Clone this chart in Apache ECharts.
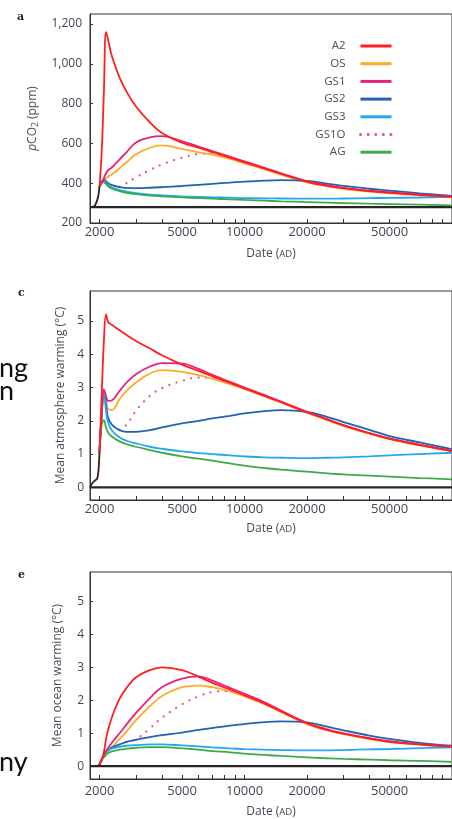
<!DOCTYPE html>
<html>
<head>
<meta charset="utf-8">
<script src="https://cdn.jsdelivr.net/npm/echarts@6/dist/echarts.min.js"></script>
<style>
html,body{margin:0;padding:0;background:#fff;}
#chart{width:452px;height:819px;}
</style>
</head>
<body>
<div id="chart"></div>
<script>
// ---- shared x values (Date AD) ----
const dates = [2000, 2050, 2100, 2150, 2200, 2300, 2500, 2700, 3000, 3500, 4000, 5000, 6000, 7000, 8500, 10000, 12500, 15000, 20000, 25000, 30000, 40000, 50000, 70000, 100000];
const histDates = [1800, 1850, 1900, 1950, 1980, 2000];
const baseDates = [1800, 100000];

// ---- tick values ----
const xMajorTicks = [2000, 5000, 10000, 20000, 50000];
const xAllTicks = [2000, 3000, 4000, 5000, 6000, 7000, 8000, 9000, 10000, 20000, 30000, 40000, 50000, 60000, 70000, 80000, 90000, 100000];
const co2Ticks = [200, 400, 600, 800, 1000, 1200];
const tempTicks = [0, 1, 2, 3, 4, 5];

const seriesNames = ['A2', 'OS', 'GS1', 'GS2', 'GS3', 'GS1O', 'AG'];

// ---- panel a: pCO2 (ppm) ----
const co2_A2   = [385, 560, 860, 1160, 1120, 1035, 930, 860, 785, 705, 652, 603, 578, 556, 528, 505, 473, 447, 407, 387, 375, 360, 352, 341, 331];
const co2_OS   = [385, 400, 415, 425, 432, 445, 475, 505, 545, 578, 590, 572, 555, 543, 522, 500, 469, 443, 404, 385, 372, 358, 350, 339, 329];
const co2_GS1  = [385, 400, 425, 450, 465, 480, 520, 555, 605, 630, 636, 610, 584, 561, 533, 510, 477, 450, 410, 390, 377, 362, 354, 343, 333];
const co2_GS2  = [385, 410, 418, 410, 400, 390, 380, 376, 375, 377, 380, 386, 392, 397, 403, 408, 413, 415, 411, 398, 386, 372, 363, 349, 336];
const co2_GS3  = [385, 405, 412, 400, 390, 378, 365, 357, 350, 343, 339, 334, 331, 329, 327, 325, 324, 323, 322, 322, 323, 325, 326, 328, 331];
const co2_GS1O = [null, null, null, null, null, null, 382, 400, 430, 466, 494, 528, 546, 548, 528, 505];
const co2_AG   = [385, 408, 405, 395, 385, 372, 360, 352, 345, 338, 334, 329, 325, 322, 319, 316, 312, 309, 305, 302, 300, 297, 295, 292, 289];
const co2_hist = [280, 281, 288, 315, 345, 385];
const co2_base = [280, 280];

// ---- panel c: mean atmosphere warming (°C) ----
const atm_A2   = [1.05, 2.8, 4.4, 5.2, 4.97, 4.88, 4.72, 4.58, 4.4, 4.17, 3.97, 3.69, 3.5, 3.34, 3.14, 2.975, 2.745, 2.56, 2.26, 2.04, 1.86, 1.62, 1.46, 1.27, 1.09];
const atm_OS   = [1.05, 2.2, 2.9, 2.6, 2.35, 2.33, 2.65, 2.9, 3.15, 3.42, 3.52, 3.47, 3.37, 3.26, 3.1, 2.95, 2.73, 2.55, 2.24, 2.02, 1.84, 1.61, 1.45, 1.26, 1.08];
const atm_GS1  = [1.05, 2.2, 2.95, 2.75, 2.6, 2.62, 2.9, 3.15, 3.4, 3.63, 3.73, 3.72, 3.56, 3.38, 3.17, 3.0, 2.77, 2.58, 2.27, 2.05, 1.87, 1.63, 1.47, 1.28, 1.1];
const atm_GS2  = [1.05, 2.2, 2.9, 2.5, 2.1, 1.88, 1.72, 1.67, 1.67, 1.72, 1.8, 1.92, 2.0, 2.07, 2.15, 2.22, 2.29, 2.32, 2.27, 2.12, 1.96, 1.73, 1.54, 1.35, 1.15];
const atm_GS3  = [1.05, 2.2, 2.85, 2.3, 1.95, 1.7, 1.5, 1.4, 1.32, 1.22, 1.16, 1.08, 1.03, 1.0, 0.96, 0.93, 0.9, 0.89, 0.88, 0.89, 0.9, 0.93, 0.96, 1.0, 1.04];
const atm_GS1O = [null, null, null, null, null, null, 1.72, 1.88, 2.3, 2.75, 2.98, 3.2, 3.3, 3.3, 3.13, 2.97];
const atm_AG   = [1.05, 1.9, 2.02, 1.8, 1.65, 1.52, 1.38, 1.3, 1.22, 1.12, 1.04, 0.93, 0.86, 0.8, 0.72, 0.65, 0.58, 0.53, 0.47, 0.42, 0.39, 0.35, 0.32, 0.28, 0.24];
const atm_hist = [0.0, 0.13, 0.2, 0.27, 0.55, 1.05];
const atm_base = [0, 0];

// ---- panel e: mean ocean warming (°C) ----
const ocn_A2   = [0.05, 0.2, 0.42, 0.82, 1.1, 1.5, 2.05, 2.38, 2.7, 2.92, 3.0, 2.92, 2.72, 2.53, 2.33, 2.15, 1.9, 1.66, 1.3, 1.1, 0.99, 0.84, 0.74, 0.66, 0.59];
const ocn_OS   = [0.05, 0.2, 0.32, 0.4, 0.46, 0.58, 0.82, 1.05, 1.4, 1.82, 2.13, 2.4, 2.45, 2.4, 2.27, 2.12, 1.88, 1.64, 1.28, 1.09, 0.97, 0.82, 0.73, 0.65, 0.58];
const ocn_GS1  = [0.05, 0.2, 0.35, 0.45, 0.55, 0.72, 1.0, 1.27, 1.62, 2.07, 2.4, 2.66, 2.73, 2.6, 2.38, 2.2, 1.94, 1.69, 1.32, 1.12, 1.0, 0.85, 0.76, 0.67, 0.6];
const ocn_GS2  = [0.05, 0.2, 0.32, 0.44, 0.5, 0.57, 0.66, 0.74, 0.8, 0.88, 0.94, 1.02, 1.1, 1.16, 1.23, 1.28, 1.34, 1.36, 1.33, 1.2, 1.09, 0.93, 0.83, 0.71, 0.62];
const ocn_GS3  = [0.05, 0.2, 0.3, 0.42, 0.48, 0.54, 0.59, 0.62, 0.64, 0.66, 0.66, 0.63, 0.6, 0.57, 0.54, 0.52, 0.5, 0.49, 0.48, 0.48, 0.49, 0.51, 0.52, 0.55, 0.57];
const ocn_GS1O = [null, null, null, null, null, null, null, 0.74, 0.82, 1.15, 1.47, 1.88, 2.12, 2.25, 2.28, 2.14];
const ocn_AG   = [0.05, 0.18, 0.27, 0.34, 0.4, 0.45, 0.5, 0.53, 0.56, 0.58, 0.58, 0.54, 0.5, 0.46, 0.42, 0.38, 0.34, 0.31, 0.27, 0.24, 0.22, 0.2, 0.18, 0.16, 0.13];
const ocn_hist = [0, 0, 0, 0.01, 0.02, 0.05];
const ocn_base = [0, 0];

const colors = {A2: '#ff1f1f', OS: '#ffab26', GS1: '#e8207f', GS2: '#2262b3', GS3: '#22a8ef', GS1O: '#ee4d96', AG: '#3daa45'};

const FONT = 'Open Sans';
const LABEL_COLOR = '#454556';
const NAME_COLOR = '#4c4c5c';

function pairs(xs, ys) {
  const out = [];
  for (let i = 0; i < ys.length; i++) {
    if (ys[i] !== null && ys[i] !== undefined) out.push([xs[i], ys[i]]);
  }
  return out;
}

const panels = [
  {top: 14, min: 200, max: 1250, ticks: co2Ticks, nameGap: 38, labelMargin: 8, xMargin: 3, xNameGap: 25,
   name: '{i|p}CO{s|2} (ppm)',
   data: {A2: co2_A2, OS: co2_OS, GS1: co2_GS1, GS2: co2_GS2, GS3: co2_GS3, GS1O: co2_GS1O, AG: co2_AG},
   hist: co2_hist, base: co2_base, fmt: v => v >= 1000 ? Math.floor(v / 1000) + ',' + String(v % 1000).padStart(3, '0') : String(v)},
  {top: 291, min: -0.38, max: 5.9, ticks: tempTicks, nameGap: 22, labelMargin: 6, xMargin: 3, xNameGap: 23,
   name: 'Mean atmosphere warming (°C)',
   data: {A2: atm_A2, OS: atm_OS, GS1: atm_GS1, GS2: atm_GS2, GS3: atm_GS3, GS1O: atm_GS1O, AG: atm_AG},
   hist: atm_hist, base: atm_base, fmt: v => String(v)},
  {top: 572, min: -0.39, max: 5.9, ticks: tempTicks, nameGap: 26, labelMargin: 6, xMargin: 6, xNameGap: 27,
   name: 'Mean ocean warming (°C)',
   data: {A2: ocn_A2, OS: ocn_OS, GS1: ocn_GS1, GS2: ocn_GS2, GS3: ocn_GS3, GS1O: ocn_GS1O, AG: ocn_AG},
   hist: ocn_hist, base: ocn_base, fmt: v => String(v)}
];

const grids = [], xAxes = [], yAxes = [], series = [];
panels.forEach((p, k) => {
  grids.push({left: 90, top: p.top, width: 365, height: 209, show: true, borderColor: '#333', borderWidth: 1, backgroundColor: 'transparent'});
  xAxes.push({
    type: 'log', gridIndex: k, min: 1800, max: 100000, logBase: 10,
    axisLine: {show: true, onZero: false, lineStyle: {color: '#333', width: 1}},
    axisTick: {show: true, inside: true, length: 4, customValues: xAllTicks, lineStyle: {color: '#333'}},
    axisLabel: {show: true, customValues: xMajorTicks, margin: p.xMargin, color: LABEL_COLOR, fontFamily: FONT, fontSize: 13, formatter: v => String(Math.round(v))},
    splitLine: {show: false}, minorTick: {show: false},
    name: 'Date ({sc|AD})', nameLocation: 'middle', nameGap: p.xNameGap,
    nameTextStyle: {color: LABEL_COLOR, fontFamily: FONT, fontSize: 12, rich: {sc: {fontSize: 9.5, color: LABEL_COLOR, fontFamily: FONT}}}
  });
  yAxes.push({
    type: 'value', gridIndex: k, min: p.min, max: p.max,
    axisLine: {show: true, onZero: false, lineStyle: {color: '#333', width: 1}},
    axisTick: {show: true, inside: true, length: 3, customValues: p.ticks, lineStyle: {color: '#333'}},
    axisLabel: {customValues: p.ticks, margin: p.labelMargin, color: LABEL_COLOR, fontFamily: FONT, fontSize: 12, formatter: p.fmt},
    splitLine: {show: false},
    name: p.name, nameLocation: 'middle', nameGap: p.nameGap, nameRotate: 90,
    nameTextStyle: {color: NAME_COLOR, fontFamily: FONT, fontSize: 12,
      rich: {i: {fontStyle: 'italic', fontSize: 12, color: NAME_COLOR, fontFamily: FONT},
             s: {fontSize: 8.5, color: NAME_COLOR, fontFamily: FONT, padding: [7, 0, 0, 0]}}}
  });
  // baseline (pre-industrial)
  series.push({type: 'line', name: 'base', xAxisIndex: k, yAxisIndex: k, data: pairs(baseDates, p.base),
    showSymbol: false, symbol: 'none', silent: true, z: 1,
    lineStyle: {color: '#262626', width: 2.2}});
  // historical segment
  series.push({type: 'line', name: 'hist', xAxisIndex: k, yAxisIndex: k, data: pairs(histDates, p.hist),
    showSymbol: false, symbol: 'none', smooth: 0.3, silent: true, z: 4,
    lineStyle: {color: '#3a1c1c', width: 1.8}});
  seriesNames.forEach(n => {
    const dotted = n === 'GS1O';
    series.push({
      type: 'line', name: n, xAxisIndex: k, yAxisIndex: k, data: pairs(dates, p.data[n]),
      showSymbol: false, symbol: 'none', smooth: 0.4, z: dotted ? 1 : 2,
      lineStyle: dotted ? {color: colors[n], width: 2.2, type: [0.1, 7.5], cap: 'round'} : {color: colors[n], width: 1.8},
      itemStyle: {color: colors[n]}
    });
  });
});
// draw order tweaks: red on top of the group
series.forEach(s => { if (s.name === 'A2') s.z = 3; if (s.name === 'GS1') s.z = 2.5; });

const chart = echarts.init(document.getElementById('chart'), null, {renderer: 'canvas'});
chart.setOption({
  animation: false,
  backgroundColor: '#ffffff',
  grid: grids, xAxis: xAxes, yAxis: yAxes, series: series,
  legend: {
    data: seriesNames, orient: 'vertical', align: 'right', right: 59, top: 40, padding: 0,
    itemWidth: 31, itemHeight: 8, itemGap: 5.7,
    textStyle: {color: '#4c4c5c', fontFamily: FONT, fontSize: 11.5, padding: [0, 10, 0, 0]},
    lineStyle: {width: 3}, itemStyle: {opacity: 0}, selectedMode: false
  },
  graphic: [
    {type: 'text', left: 17, top: 12, style: {text: 'a', font: 'bold 11px "DejaVu Serif"', fill: '#222'}},
    {type: 'text', left: 18, top: 288, style: {text: 'c', font: 'bold 11px "DejaVu Serif"', fill: '#222'}},
    {type: 'text', left: 18, top: 570, style: {text: 'e', font: 'bold 11px "DejaVu Serif"', fill: '#222'}},
    {type: 'text', left: -1, top: 355, style: {text: 'ng', font: '27px Lato', fill: '#111'}},
    {type: 'text', left: -1, top: 378, style: {text: 'n', font: '27px Lato', fill: '#111'}},
    {type: 'text', left: -1, top: 749, style: {text: 'ny', font: '27px Lato', fill: '#111'}}
  ]
});
</script>
</body>
</html>
